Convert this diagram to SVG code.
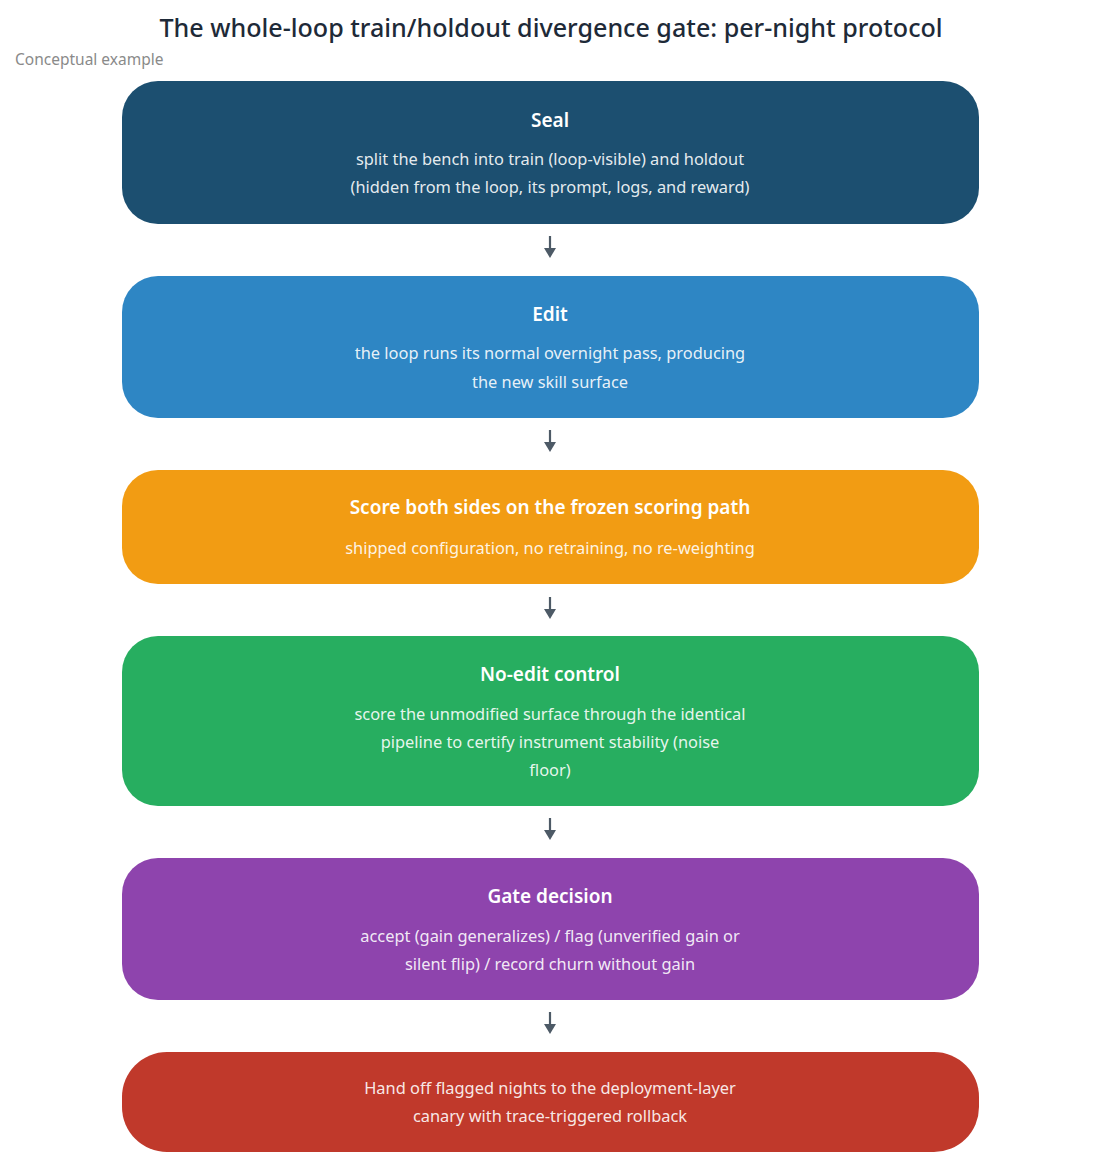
<svg xmlns="http://www.w3.org/2000/svg" width="1101" height="1168" viewBox="0 0 1101 1168">
<style>
  text { font-family: "Noto Sans", "Open Sans", sans-serif; text-anchor: middle; }
  .title { font-size: 25.1px; font-weight: 500; fill: #1e2a38; }
  .sub { font-size: 15.5px; fill: #8a8a8a; text-anchor: start; }
  .h { font-size: 19px; font-weight: 600; fill: #ffffff; }
  .b { font-size: 16.4px; fill: #ffffff; fill-opacity: 0.9; }
  .conn line { stroke: #4d5a66; stroke-width: 2.2; }
</style>
<defs>
  <marker id="ah" markerWidth="12" markerHeight="12" refX="2" refY="6" orient="auto" markerUnits="userSpaceOnUse" viewBox="0 0 12 12">
    <path d="M0,0 L10,6 L0,12 Z" fill="#4d5a66"/>
  </marker>
</defs>
<rect width="1101" height="1168" fill="#ffffff"/>
<text class="title" x="551" y="37">The whole-loop train/holdout divergence gate: per-night protocol</text>
<text class="sub" x="15" y="65">Conceptual example</text>

<g id="seal">
  <rect x="122" y="81" width="857" height="143" rx="36" fill="#1c4f70"/>
  <text class="h" x="550" y="127">Seal</text>
  <text class="b" x="550" y="165">split the bench into train (loop-visible) and holdout</text>
  <text class="b" x="550" y="193">(hidden from the loop, its prompt, logs, and reward)</text>
</g>
<g id="edit">
  <rect x="122" y="276" width="857" height="142" rx="36" fill="#2e86c4"/>
  <text class="h" x="550" y="321">Edit</text>
  <text class="b" x="550" y="359">the loop runs its normal overnight pass, producing</text>
  <text class="b" x="550" y="388">the new skill surface</text>
</g>
<g id="score">
  <rect x="122" y="470" width="857" height="114" rx="36" fill="#f29c13"/>
  <text class="h" x="550" y="514">Score both sides on the frozen scoring path</text>
  <text class="b" x="550" y="554">shipped configuration, no retraining, no re-weighting</text>
</g>
<g id="noedit">
  <rect x="122" y="636" width="857" height="170" rx="36" fill="#27ae60"/>
  <text class="h" x="550" y="681">No-edit control</text>
  <text class="b" x="550" y="720">score the unmodified surface through the identical</text>
  <text class="b" x="550" y="748">pipeline to certify instrument stability (noise</text>
  <text class="b" x="550" y="776">floor)</text>
</g>
<g id="gate">
  <rect x="122" y="858" width="857" height="142" rx="36" fill="#8e44ad"/>
  <text class="h" x="550" y="903">Gate decision</text>
  <text class="b" x="550" y="942">accept (gain generalizes) / flag (unverified gain or</text>
  <text class="b" x="550" y="970">silent flip) / record churn without gain</text>
</g>
<g id="handoff">
  <rect x="122" y="1052" width="857" height="100" rx="45" fill="#c0392b"/>
  <text class="b" x="550" y="1094">Hand off flagged nights to the deployment-layer</text>
  <text class="b" x="550" y="1122">canary with trace-triggered rollback</text>
</g>

<g id="connectors" class="conn">
  <line x1="550" y1="236" x2="550" y2="250" marker-end="url(#ah)"/>
  <line x1="550" y1="430" x2="550" y2="444" marker-end="url(#ah)"/>
  <line x1="550" y1="597" x2="550" y2="611" marker-end="url(#ah)"/>
  <line x1="550" y1="818" x2="550" y2="832" marker-end="url(#ah)"/>
  <line x1="550" y1="1012" x2="550" y2="1026" marker-end="url(#ah)"/>
</g>
</svg>
